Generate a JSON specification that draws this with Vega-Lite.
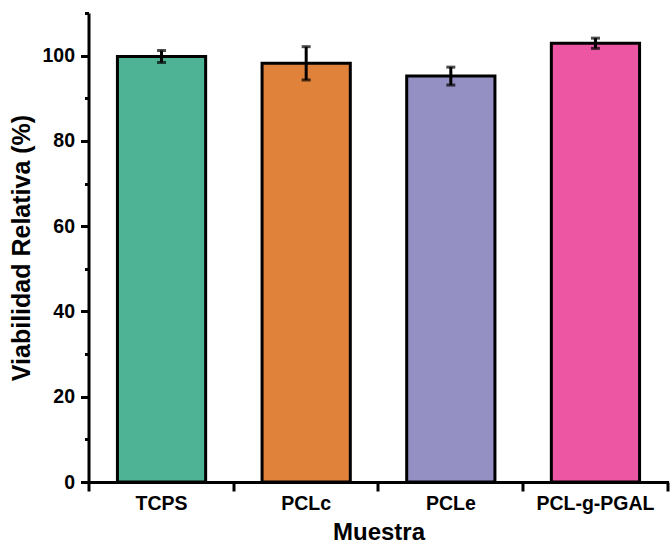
{
  "$schema": "https://vega.github.io/schema/vega-lite/v6.json",
  "width": 580,
  "height": 469,
  "autosize": {"type": "none"},
  "padding": {"left": 88.5, "top": 13, "right": 1.5, "bottom": 64},
  "background": "white",
  "config": {
    "view": {"stroke": null},
    "font": "Liberation Sans",
    "axis": {
      "domainColor": "black",
      "domainWidth": 3,
      "tickColor": "black",
      "tickWidth": 3,
      "grid": false,
      "labelFont": "Liberation Sans",
      "labelFontWeight": "bold",
      "labelFontSize": 19.5,
      "labelColor": "black",
      "titleFont": "Liberation Sans",
      "titleFontWeight": "bold",
      "titleFontSize": 24,
      "titleColor": "black"
    }
  },
  "data": {
    "values": [
      {"Muestra": "TCPS", "v": 99.8, "lo": 98.4, "hi": 101.2},
      {"Muestra": "PCLc", "v": 98.2, "lo": 94.3, "hi": 102.1},
      {"Muestra": "PCLe", "v": 95.2, "lo": 93.1, "hi": 97.3},
      {"Muestra": "PCL-g-PGAL", "v": 102.9, "lo": 101.7, "hi": 104.1}
    ]
  },
  "layer": [
    {
      "mark": {"type": "bar", "stroke": "black", "strokeWidth": 3},
      "encoding": {
        "x": {
          "field": "Muestra", "type": "nominal", "sort": null,
          "scale": {"paddingInner": 0.39, "paddingOuter": 0.2},
          "axis": {"title": "Muestra", "orient": "bottom", "labelAngle": 0, "bandPosition": -0.32, "tickSize": 9, "labelPadding": 3, "titlePadding": 8}
        },
        "y": {
          "field": "v", "type": "quantitative",
          "scale": {"domain": [0, 110], "nice": false, "zero": true},
          "axis": {"title": "Viabilidad Relativa (%)", "titleFontSize": 25, "orient": "left", "values": [0, 20, 40, 60, 80, 100], "tickSize": 8, "labelPadding": 6, "titlePadding": 7}
        },
        "fill": {
          "field": "Muestra", "type": "nominal", "sort": null,
          "scale": {"range": ["#4db394", "#e1823a", "#9490c4", "#ec56a3"]},
          "legend": null
        }
      }
    },
    {
      "mark": {"type": "rule", "color": "black", "strokeWidth": 3},
      "encoding": {
        "x": {
          "field": "Muestra", "type": "nominal", "sort": null,
          "axis": {"orient": "bottom", "values": ["PCL-g-PGAL"], "bandPosition": 1.32, "labels": false, "domain": false, "title": null, "tickSize": 9}
        },
        "y": {
          "field": "lo", "type": "quantitative",
          "axis": {"orient": "left", "values": [10, 30, 50, 70, 90, 110], "labels": false, "domain": false, "title": null, "tickSize": 4}
        },
        "y2": {"field": "hi"}
      }
    },
    {
      "mark": {"type": "tick", "color": "black", "size": 9, "thickness": 3},
      "encoding": {
        "x": {"field": "Muestra", "type": "nominal", "sort": null, "axis": null},
        "y": {"field": "lo", "type": "quantitative", "axis": null}
      }
    },
    {
      "mark": {"type": "tick", "color": "black", "size": 9, "thickness": 3},
      "encoding": {
        "x": {"field": "Muestra", "type": "nominal", "sort": null, "axis": null},
        "y": {"field": "hi", "type": "quantitative", "axis": null}
      }
    }
  ],
  "resolve": {"axis": {"x": "independent", "y": "independent"}}
}
